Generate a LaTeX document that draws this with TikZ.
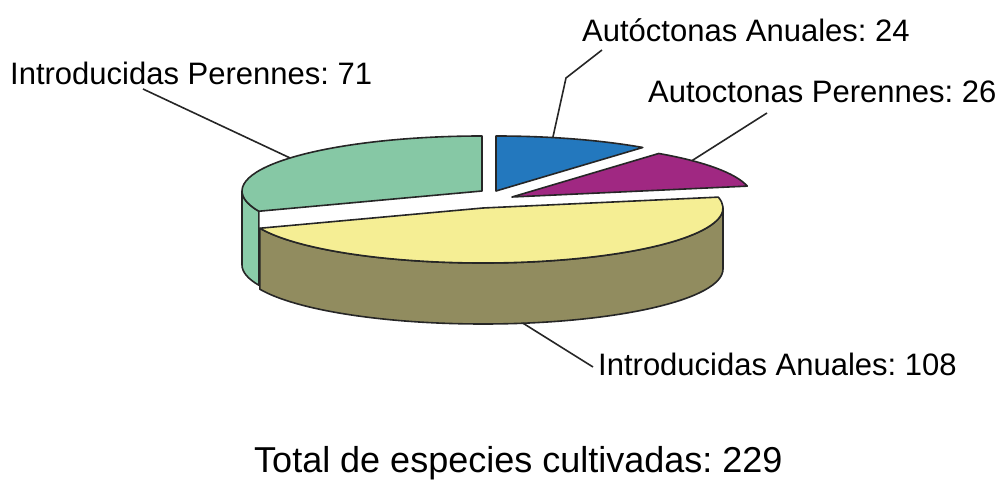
\documentclass[tikz,border=0pt]{standalone}
\usepackage{fontspec}
\setmainfont{Liberation Sans}
\usetikzlibrary{calc}
\definecolor{gtop}{HTML}{86C8A5}
\definecolor{gwall}{HTML}{8ACCA9}
\definecolor{bluec}{HTML}{2378BE}
\definecolor{magc}{HTML}{A02882}
\definecolor{ytop}{HTML}{F5EE94}
\definecolor{ywall}{HTML}{918C5F}
\tikzset{
  slice/.style={draw=black!85, line width=1.6pt, line join=round},
  leader/.style={draw=black!85, line width=1.6pt},
  lbl/.style={inner sep=0pt, anchor=base west, font=\fontsize{31}{31}\selectfont},
  ttl/.style={inner sep=0pt, anchor=base west, font=\fontsize{36}{36}\selectfont},
  ell/.style={x radius=240pt, y radius=55pt}
}
\frenchspacing
\begin{document}
\frenchspacing
\begin{tikzpicture}[x=1pt,y=1pt]
\useasboundingbox (0,0) rectangle (998,479);
% slice centres
\coordinate (G) at (482,288);
\coordinate (B) at (496,288);
\coordinate (M) at (512,282);
\coordinate (Y) at (483,271);
\coordinate (Yb) at (483,210);
% green slice (Introducidas Perennes)
\path[slice, fill=gwall] ($(G)+(180:240pt and 55pt)$) arc[ell, start angle=180, end angle=201.6]
  -- ++(0,-74) arc[ell, start angle=201.6, end angle=180] -- cycle;
\path[slice, fill=gtop] (G) -- ($(G)+(90:240pt and 55pt)$) arc[ell, start angle=90, end angle=201.6] -- cycle;
% blue slice (Autoctonas Anuales)
\path[slice, fill=bluec] (B) -- ($(B)+(52.3:240pt and 55pt)$) arc[ell, start angle=52.3, end angle=90] -- cycle;
% magenta slice (Autoctonas Perennes)
\path[slice, fill=magc] (M) -- ($(M)+(11.4:240pt and 55pt)$) arc[ell, start angle=11.4, end angle=52.3] -- cycle;
% yellow slice (Introducidas Anuales)
\path[slice, fill=ywall] ($(Y)+(-158.4:240pt and 55pt)$) arc[ell, start angle=-158.4, end angle=0]
  -- ++(0,-61) arc[ell, start angle=0, end angle=-158.4] -- cycle;
\path[slice, fill=ytop] (Y) -- ($(Y)+(-158.4:240pt and 55pt)$) arc[ell, start angle=-158.4, end angle=11.4] -- cycle;
% leader anchor points on the pie
\coordinate (aa1) at ($(B)+(76.3:240pt and 55pt)$);
\coordinate (aa2) at (566,401);
\coordinate (aa3) at (602,429);
\coordinate (ap1) at ($(M)+(41.4:240pt and 55pt)$);
\coordinate (ap2) at (767,366);
\coordinate (ip1) at ($(G)+(143.1:240pt and 55pt)$);
\coordinate (ip2) at (143,390);
\coordinate (ia1) at ($(Yb)+(-80.4:240pt and 55pt)$);
\coordinate (ia2) at (593,112);
% labels
\node[lbl] (laa) at (582,437) {Autóctonas Anuales: 24};
\node[lbl] (lip) at (10,394) {Introducidas Perennes: 71};
\node[lbl] (lap) at (648,376) {Autoctonas Perennes: 26};
\node[lbl] (lia) at (598,103) {Introducidas Anuales: 108};
\node[ttl] (tot) at (254,6) {Total de especies cultivadas: 229};
% leaders
\draw[leader] (aa1) -- (aa2) -- (aa3);
\draw[leader] (ap1) -- (ap2);
\draw[leader] (ip1) -- (ip2);
\draw[leader] (ia1) -- (ia2);
\end{tikzpicture}
\end{document}
